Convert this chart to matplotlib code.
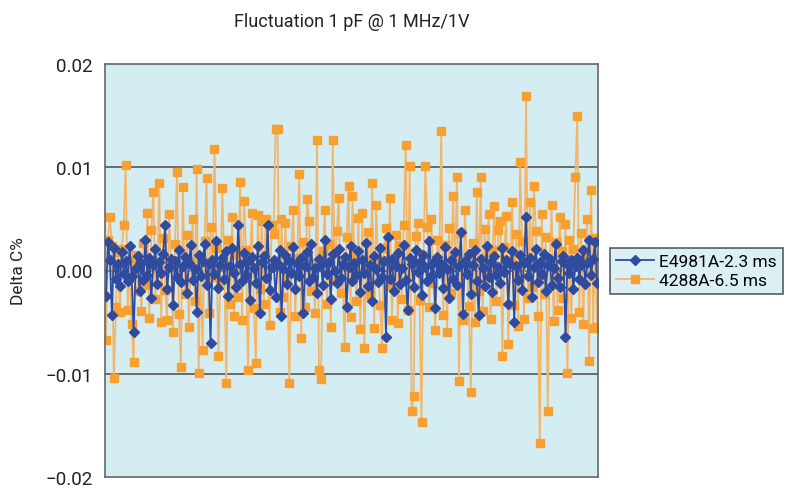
import numpy as np
import matplotlib.pyplot as plt

# values, in units of 1e-3 (Delta C%)
e4981_vals = [
    -2.5, 2.8, 1.0, -4.3, 2.2, -0.8, 0.6, -1.5, 1.8, -0.3,
    0.9, -1.0, 2.4, -0.5, -6.0, 0.2, 1.4, -2.0, 0.7, -0.9,
    3.0, -0.4, 1.2, -2.7, 0.5, 2.1, -1.3, 0.8, -0.2, 1.6,
    4.4, -1.8, 0.3, 1.1, -3.3, 0.9, -0.6, 2.0, -1.1, 0.4,
    1.3, -2.2, 0.7, 2.5, -0.9, 0.1, -4.0, 1.5, -0.5, 0.9,
    2.6, -1.4, 0.6, -7.0, 1.0, -0.3, 2.9, -1.7, 0.5, 1.2,
    -0.8, 1.9, -2.5, 0.4, 2.2, -0.2, -1.6, 4.4, 0.6, -1.0,
    1.7, -0.4, 0.9, -2.9, 1.3, 0.2, -1.2, 2.4, -4.1, 0.8,
    1.4, -0.7, 4.4, -1.9, 0.3, 1.0, -2.6, 0.6, 2.0, -4.4,
    0.1, 1.5, -1.3, 0.9, -0.2, 2.3, -1.8, 0.7, -0.5, 1.2,
    -4.1, 0.4, 1.8, -1.0, 2.6, -0.6, 0.2, -2.2, 1.1, 0.5,
    -1.4, 3.0, -0.3, 0.8, -2.8, 1.6, 0.0, -1.2, 2.1, -0.7,
    0.6, 1.3, -3.5, 0.3, 2.4, -1.0, 0.7, -0.4, 1.9, -2.1,
    1.0, -0.2, 2.7, -1.5, 0.5, -3.0, 1.4, 0.1, -1.1, 2.2,
    -0.6, 0.9, -6.4, 3.2, -0.8, 1.1, -2.0, 0.4, 1.7, -1.3,
    0.2, 2.5, -0.9, -3.8, 1.2, 0.6, -1.6, 2.0, -0.1, 0.8,
    -2.4, 1.5, 0.3, -1.0, 2.9, -0.5, 0.7, -3.6, 1.3, -0.2,
    0.6, -1.7, 2.3, 0.1, -2.7, 1.0, -0.8, 1.8, -1.4, 0.4,
    3.7, -4.2, 0.9, -0.3, 1.6, -2.3, 0.5, 2.0, -1.0, -4.3,
    1.1, 0.2, -1.5, 2.4, -0.6, 0.8, -2.1, 1.4, -0.4, 0.3,
    -1.2, 2.2, -0.1, 1.0, -3.2, 0.6, 1.9, -5.0, 0.4, -0.9,
    1.5, -1.9, 0.7, 5.2, -0.5, 1.2, -2.6, 0.3, 2.1, -1.1,
    0.8, -0.3, 1.6, -2.0, 0.5, 1.1, -1.4, 0.2, 2.6, -0.7,
    -1.6, 0.9, 1.4, -6.4, 0.6, -0.2, 1.0, -1.8, 0.4, 1.2,
    -0.8, 0.5, 2.0, -1.3, 0.7, 3.0, -0.4, 1.1, 2.8, -1.2,
]

a4288_vals = [
    -6.7, 3.0, 5.2, 2.4, -10.4, -3.5, 1.8, -4.0, 2.1, 4.4,
    10.2, -3.8, 0.9, -5.2, -8.9, 1.5, -2.0, 0.6, -3.9, 2.7,
    -1.4, 5.6, -4.6, 3.9, 7.6, -2.8, 0.2, 8.5, -5.0, 3.1,
    -1.9, -4.8, 5.5, 1.0, -6.0, 2.6, 9.5, -4.2, -9.3, 8.1,
    -2.3, 3.4, -5.5, 0.8, 5.0, -3.0, 9.8, -9.9, 1.2, -7.7,
    2.9, 9.0, -4.1, 4.2, -0.6, 11.8, 2.2, -8.3, -1.0, 8.0,
    0.4, -10.9, 3.0, -3.2, 5.2, -4.4, 1.6, -2.6, 8.6, -4.8,
    6.7, 2.0, -9.6, 0.9, 5.6, -3.6, -9.0, 5.4, -1.8, 4.8,
    -3.2, 5.0, 0.3, -5.3, 4.4, 3.5, 13.7, 13.7, -4.0, 5.0,
    -2.6, 4.6, -0.8, -10.9, 2.4, 5.9, -4.4, 1.2, 9.3, -6.5,
    2.8, -3.5, 6.9, 4.8, -2.0, 0.7, -4.1, 12.6, -9.6, -10.5,
    1.9, 5.9, -3.2, 2.6, -5.5, 12.6, -1.0, 3.8, 7.0, -2.2,
    0.5, -7.4, 3.2, 8.2, -4.5, 7.2, 1.4, -3.0, 5.1, -5.7,
    5.6, -7.5, 0.9, 3.7, -2.4, 8.5, -5.6, 6.3, 1.0, -3.3,
    -7.5, 2.2, 4.1, -1.5, 7.0, -4.8, 0.6, 3.4, -5.1, 2.5,
    -2.8, 4.4, 12.2, -3.8, 10.1, -13.6, -12.2, 3.3, 4.6, -2.9,
    -14.7, 1.5, 10.1, 4.2, -3.5, 5.0, -1.2, -5.8, 3.0, 0.4,
    13.5, -4.3, 2.5, -6.0, 4.1, -2.2, 7.2, 0.8, 9.1, -10.7,
    3.6, -4.8, 5.9, 1.1, -3.4, -11.8, 2.7, -5.0, 7.6, -2.0,
    9.1, -3.9, 4.0, -0.5, 5.5, -4.7, 2.0, 6.2, -3.0, 3.9,
    4.8, -8.3, 2.3, 5.3, -7.1, 1.0, 6.6, -3.3, 3.5, -5.4,
    10.5, 2.9, -4.7, 16.9, -2.7, 6.6, -1.6, 8.2, 3.8, -4.4,
    -16.7, 5.5, -2.3, 3.2, -13.6, 0.8, 6.3, -4.9, 2.8, -3.8,
    5.2, 1.9, -2.7, 4.5, -9.9, 3.0, -4.6, 2.1, 9.1, 15.0,
    -4.0, 3.6, -5.2, 1.6, 5.0, -8.8, 7.8, -5.6, 3.1, -5.5,
]

series_names = ["E4981A-2.3 ms", "4288A-6.5 ms"]
y_ticks = [-0.02, -0.01, 0.00, 0.01, 0.02]
y_tick_labels = ["\u22120.02", "\u22120.01", "0.00", "0.01", "0.02"]

plt.rcParams["font.family"] = ["Roboto", "DejaVu Sans"]

blue = "#2F4B9F"
orange = "#F7A030"
orange_line = "#F3B56A"
bg = "#D3EDF3"

e4981 = np.array(e4981_vals) * 1e-3
a4288 = np.array(a4288_vals) * 1e-3
x = np.arange(len(e4981))

fig = plt.figure(figsize=(7.89, 4.89), dpi=100)
ax = fig.add_axes([105 / 789, 1 - 478 / 489, 493 / 789, 413 / 489])
ax.set_facecolor(bg)

# dark gridlines at the inner ticks
for yv in [-0.01, 0.0, 0.01]:
    ax.axhline(yv, color="#555555", lw=1.2, zorder=1)

ax.plot(x, a4288, color=orange_line, lw=1.3, marker="s", ms=5.5,
        mfc=orange, mec=orange, label=series_names[1], zorder=2)
ax.plot(x, e4981, color=blue, lw=1.3, marker="D", ms=4.8,
        mfc=blue, mec=blue, label=series_names[0], zorder=3)

ax.set_xlim(-0.5, len(x) - 0.5)
ax.set_ylim(-0.02, 0.02)
ax.set_xticks([])
ax.set_yticks(y_ticks)
ax.set_yticklabels(y_tick_labels, fontsize=13.5, color="#222222")
ax.tick_params(axis="y", length=0, pad=9)
for s in ax.spines.values():
    s.set_color("#666666")
    s.set_linewidth(1.2)

ax.set_ylabel("Delta C%", fontsize=12.5, labelpad=14, color="#222222")
fig.text(352 / 789, 1 - 22 / 489, "Fluctuation 1 pF @ 1 MHz/1V",
         ha="center", va="center", fontsize=13, color="#222222")

handles, labels = ax.get_legend_handles_labels()
leg = fig.legend(handles[::-1], labels[::-1], loc="center left",
                 bbox_to_anchor=(610 / 789, 1 - 272 / 489), fontsize=12.5,
                 frameon=True, fancybox=False, handlelength=2.2,
                 handletextpad=0.3, borderpad=0.35, labelspacing=0.2,
                 borderaxespad=0)
leg.get_frame().set_facecolor(bg)
leg.get_frame().set_edgecolor("#333333")
leg.get_frame().set_linewidth(1.2)

fig.savefig("out.png", dpi=100)
